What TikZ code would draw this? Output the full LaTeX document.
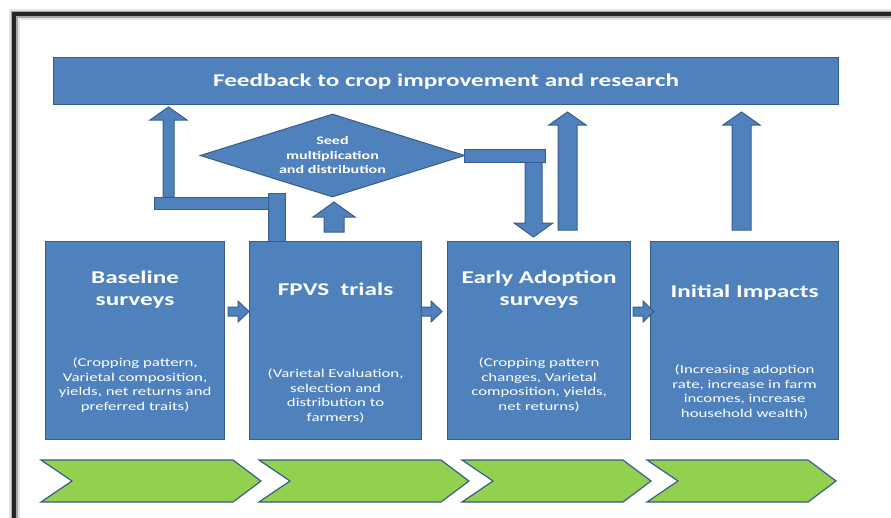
\documentclass[tikz,border=0pt]{standalone}
\usepackage{fontspec}
\setmainfont{Carlito}[FakeStretch=1.4]
\usetikzlibrary{shapes.geometric}
\definecolor{boxblue}{HTML}{4F81BD}
\definecolor{boxedge}{HTML}{385D8A}
\definecolor{stepgreen}{HTML}{92D050}

\begin{document}
\begin{tikzpicture}[x=1pt, y=-1pt,
    stage/.style={draw=boxedge, line width=1.2pt, fill=boxblue, minimum height=198pt, inner sep=0pt, anchor=north west},
    headtext/.style={text=white, font=\fontsize{18}{22}\selectfont\bfseries, align=center},
    subtext/.style={text=white, font=\fontsize{12}{14.5}\selectfont, align=center},
    blockarrow/.style={draw=boxedge, line width=1pt, fill=boxblue},
    chevron/.style={draw=boxedge, line width=1.2pt, fill=stepgreen, line join=miter}]
    \useasboundingbox (0,0) rectangle (891,517);

    % frame
    \draw[line width=11pt, black!10] (14,530) -- (14,14) -- (900,14);
    \draw[line width=7pt, black!35] (14,530) -- (14,14) -- (900,14);
    \draw[line width=4pt, black!85] (14,530) -- (14,14) -- (900,14);

    % feedback bar
    \node[stage, headtext, minimum width=785pt, minimum height=47pt] (feedback) at (53,57) {Feedback to crop improvement and research};

    % stages
    \node[stage, minimum width=179pt] (base) at (45,241) {};
    \node[stage, minimum width=172pt] (fpvs) at (249,241) {};
    \node[stage, minimum width=183pt] (early) at (447,241) {};
    \node[stage, minimum width=188pt] (impact) at (650,241) {};

    \node[headtext] (baseT) at ([yshift=-49pt]base.north) {Baseline\\surveys};
    \node[headtext] (fpvsT) at ([yshift=-48pt]fpvs.north) {FPVS\ \ trials};
    \node[headtext] (earlyT) at ([yshift=-49pt]early.north) {Early Adoption\\surveys};
    \node[headtext] (impactT) at ([yshift=-52pt]impact.north) {Initial Impacts};

    \node[subtext] (baseD) at ([yshift=-144pt]base.north) {(Cropping pattern,\\Varietal composition,\\yields, net returns and\\preferred traits)};
    \node[subtext] (fpvsD) at ([yshift=-155pt]fpvs.north) {(Varietal Evaluation,\\selection and\\distribution to\\farmers)};
    \node[subtext] (earlyD) at ([yshift=-144pt]early.north) {(Cropping pattern\\changes, Varietal\\composition, yields,\\net returns)};
    \node[subtext] (impactD) at ([yshift=-151pt]impact.north) {(Increasing adoption\\rate, increase in farm\\incomes, increase\\household wealth)};

    % fpvs -> feedback
    \draw[blockarrow] (163,197) -- (163,120) -- (150,120) -- (168.5,107) -- (187,120) -- (174,120) -- (174,197) -- cycle;
    \draw[blockarrow] (154,197) rectangle (268,209);
    \draw[blockarrow] (268,193) rectangle (285,241);

    % fpvs -> seed
    \draw[blockarrow] (324,232) -- (324,217) -- (313,217) -- (334,202) -- (355,217) -- (344,217) -- (344,232) -- cycle;

    % seed -> early
    \draw[blockarrow] (525,160) -- (525,223) -- (514,223) -- (533.5,237) -- (553,223) -- (542,223) -- (542,160) -- cycle;

    \node[diamond, draw=boxedge, fill=boxblue, line width=1pt, minimum width=265pt, minimum height=83pt, inner sep=0pt, aspect=3.2,
        text=white, font=\fontsize{11.5}{14.5}\selectfont\bfseries, align=center] (seed) at (332.5,155.5) {Seed\\multiplication\\and distribution};
    \draw[blockarrow] (seed.east) ++(-1,-6.5) rectangle (545,162);

    % early, impact -> feedback
    \draw[blockarrow] (558,230) -- (558,125) -- (549,125) -- (567.5,112) -- (586,125) -- (577,125) -- (577,230) -- cycle;
    \draw[blockarrow] (732,230) -- (732,125) -- (723,125) -- (741.5,112) -- (760,125) -- (751,125) -- (751,230) -- cycle;

    % stage to stage
    \foreach \sx in {228,421,633}
        \draw[blockarrow] (\sx,307) -- (\sx+10,307) -- (\sx+10,301) -- (\sx+21,311.5) -- (\sx+10,322) -- (\sx+10,316) -- (\sx,316) -- cycle;

    % chevrons
    \foreach \l/\r in {41/233, 259/441, 462/623, 647/808}
        \draw[chevron] (\l,460) -- (\r,460) -- (\r+28,481) -- (\r,502) -- (\l,502) -- (\l+31,481) -- cycle;

\end{tikzpicture}
\end{document}
